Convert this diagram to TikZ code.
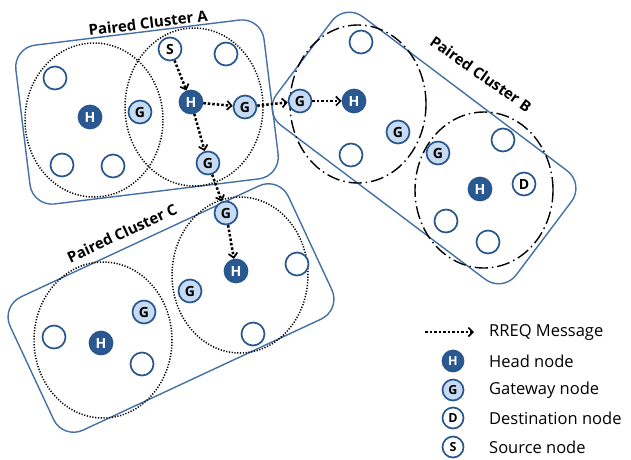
\documentclass[tikz,border=0pt]{standalone}
\usepackage{fontspec}
\setmainfont{Open Sans}
\usetikzlibrary{arrows.meta}
\definecolor{edgeblue}{RGB}{68,112,166}
\definecolor{nodeblue}{RGB}{40,86,142}
\definecolor{headfill}{RGB}{42,88,144}
\definecolor{gatefill}{RGB}{198,218,242}

\tikzset{
  pnode/.style={circle, draw=nodeblue, line width=1.7pt, minimum size=23pt, inner sep=0pt,
                font=\fontsize{14}{14}\selectfont\bfseries},
  plain/.style={pnode, fill=white},
  head/.style={pnode, fill=headfill, text=white},
  gate/.style={pnode, fill=gatefill},
  legnode/.style={minimum size=21pt, font=\fontsize{12.5}{12.5}\selectfont\bfseries},
  cluster/.style={rectangle, draw=edgeblue, line width=1.4pt, rounded corners=22pt, inner sep=0pt},
  dotring/.style={draw=black, line width=1.5pt, dash pattern=on 1.2pt off 1.6pt},
  dashring/.style={draw=black, line width=1.4pt, dash pattern=on 13pt off 4pt on 1.5pt off 4pt},
  rreq/.style={draw=black, line width=2.5pt, dash pattern=on 2.5pt off 2pt,
               -{Straight Barb[length=4.5pt,width=9pt,line width=1.7pt]}},
  clabel/.style={font=\fontsize{15}{15}\selectfont\bfseries},
  legtext/.style={anchor=west, inner sep=0pt, font=\fontsize{16.5}{16.5}\selectfont},
}

\begin{document}
\begin{tikzpicture}[x=1pt, y=-1pt]
\useasboundingbox (0,0) rectangle (631,459);

% cluster outlines
\node[cluster, minimum width=250pt, minimum height=160pt, rotate=7] (boxA) at (147,112) {};
\node[cluster, minimum width=300pt, minimum height=136pt, rotate=-37] (boxB) at (424,148) {};
\node[cluster, minimum width=307pt, minimum height=147pt, rotate=25] (boxC) at (171,308) {};

% cluster labels
\node[clabel, rotate=7] (labA) at (148,23) {Paired Cluster A};
\node[clabel, rotate=-35] (labB) at (481,74) {Paired Cluster B};
\node[clabel, rotate=25] (labC) at (122,233) {Paired Cluster C};

% cluster ranges
\draw[dotring] (94,120) ellipse [x radius=69pt, y radius=77pt];
\draw[dotring] (194,107) ellipse [x radius=69pt, y radius=79pt];
\draw[dashring] (358,104) ellipse [x radius=68pt, y radius=79pt];
\draw[dashring] (484,190) ellipse [x radius=69pt, y radius=78pt];
\draw[dotring] (103,340) ellipse [x radius=69pt, y radius=78pt];
\draw[dotring] (240,275) ellipse [x radius=68pt, y radius=78pt];

% cluster A
\node[plain] (a1) at (55,78) {};
\node[head]  (hA1) at (90,117) {H};
\node[gate]  (gA1) at (140,112) {G};
\node[plain] (a2) at (62,165) {};
\node[plain] (a3) at (113,166) {};
\node[plain] (src) at (170,49) {S};
\node[plain] (a4) at (226,54) {};
\node[head]  (hA2) at (191,102) {H};
\node[gate]  (gA2) at (245,107) {G};
\node[gate]  (gA3) at (208,163) {G};

% cluster B
\node[plain] (b1) at (361,42) {};
\node[gate]  (gB1) at (300,101) {G};
\node[head]  (hB1) at (354,101) {H};
\node[gate]  (gB2) at (398,132) {G};
\node[plain] (b2) at (351,155) {};
\node[gate]  (gB3) at (438,153) {G};
\node[plain] (b3) at (503,140) {};
\node[head]  (hB2) at (480,189) {H};
\node[plain] (dst) at (524,184) {D};
\node[plain] (b4) at (446,221) {};
\node[plain] (b5) at (488,242) {};

% cluster C
\node[gate]  (gC1) at (226,213) {G};
\node[head]  (hC2) at (236,271) {H};
\node[plain] (c1) at (297,264) {};
\node[gate]  (gC2) at (190,291) {G};
\node[plain] (c2) at (253,334) {};
\node[gate]  (gC3) at (144,312) {G};
\node[plain] (c3) at (54,337) {};
\node[head]  (hC1) at (101,343) {H};
\node[plain] (c4) at (142,364) {};

% RREQ flooding path
\draw[rreq] (src) -- (hA2);
\draw[rreq] (hA2) -- (gA2);
\draw[rreq] (hA2) -- (gA3);
\draw[rreq] (gA3) -- (gC1);
\draw[rreq] (gC1) -- (hC2);
\draw[rreq] (gA2) -- (gB1);
\draw[rreq] (gB1) -- (hB1);

% legend
\coordinate (la) at (425,332);
\coordinate (lb) at (474,332);
\draw[rreq] (la) -- (lb);
\node[legtext] (t1) at (489,332) {RREQ Message};
\node[head, legnode] (lh) at (453,361) {H};
\node[legtext] (t2) at (489,361) {Head node};
\node[gate, legnode] (lg) at (453,390) {G};
\node[legtext] (t3) at (489,390) {Gateway node};
\node[plain, legnode] (ld) at (453,418) {D};
\node[legtext] (t4) at (489,418) {Destination node};
\node[plain, legnode] (ls) at (453,447) {S};
\node[legtext] (t5) at (489,447) {Source node};
\end{tikzpicture}
\end{document}
